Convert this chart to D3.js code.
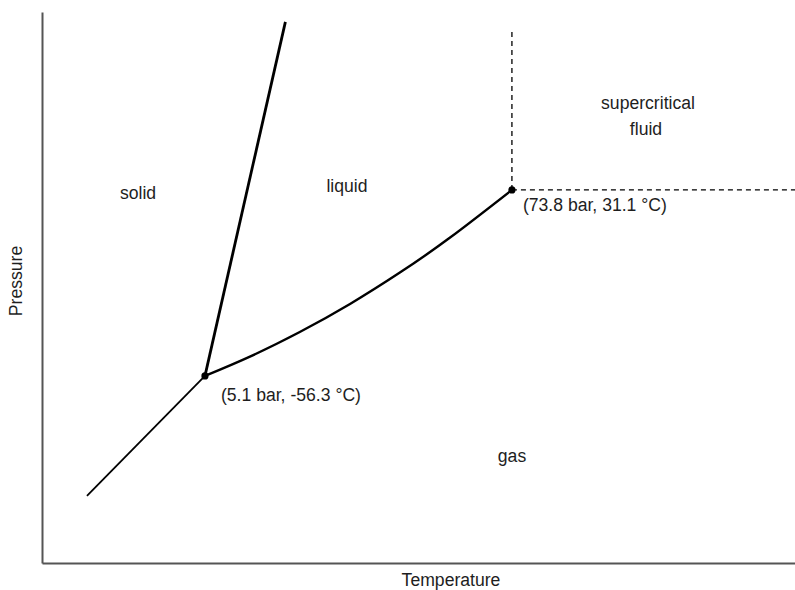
<!DOCTYPE html>
<html>
<head>
<meta charset="utf-8">
<script src="https://cdn.jsdelivr.net/npm/d3@7"></script>
<style>
  html, body { margin: 0; padding: 0; background: #fff; }
  svg { display: block; }
  text { font-family: "Liberation Sans", Arial, sans-serif; fill: #1e1e1e; }
</style>
</head>
<body>
<svg id="chart" width="795" height="590"></svg>
<script>
// Phase diagram of carbon dioxide (schematic): temperature in °C, pressure in bar.

// Special points
const triplePoint = { T: -56.3, P: 5.1 };
const criticalPoint = { T: 31.1, P: 73.8 };

// Phase boundaries as [temperature, pressure] pairs
const sublimationCurve = [[-89.9, 0.91], [-56.3, 5.1]];
const meltingCurve = [[-56.3, 5.1], [-33.4, 825]];
const vaporizationCurve = [
  [-56.3, 5.1], [-43.5, 6.73], [-29.3, 9.58], [-15.0, 14.33],
  [-0.8, 22.5], [13.4, 37.1], [31.1, 73.8]
];

// Boundaries of the supercritical region
const criticalIsotherm = [[31.1, 73.8], [31.1, 757]];
const criticalIsobar = [[31.1, 73.8], [111.7, 73.8]];

// Region names
const regionNames = ["solid", "liquid", "supercritical", "fluid", "gas"];

// Axis titles
const xTitle = "Temperature";
const yTitle = "Pressure";

// ---- layout ----
const svg = d3.select("#chart");
const plotLeft = 42, plotRight = 795, plotTop = 12, plotBottom = 563;
const fontSize = 17.6;

const x = d3.scaleLinear().domain([-102.7, 111.7]).range([plotLeft, plotRight]);
const y = d3.scaleLog().domain([0.347, 951]).range([plotBottom, plotTop]);

// Axes: plain lines, no ticks
const axisColor = "#555";
const gx = svg.append("g")
  .attr("transform", `translate(0,${plotBottom})`)
  .call(d3.axisBottom(x).tickValues([]).tickSizeOuter(0));
const gy = svg.append("g")
  .attr("transform", `translate(${plotLeft},0)`)
  .call(d3.axisLeft(y).tickValues([]).tickSizeOuter(0));
[gx, gy].forEach(g => g.select(".domain")
  .attr("stroke", axisColor).attr("stroke-width", 2));

const line = d3.line().x(d => x(d[0])).y(d => y(d[1]));

// Dashed limits of the supercritical region
[criticalIsotherm, criticalIsobar].forEach(seg => {
  svg.append("path")
    .attr("d", line(seg))
    .attr("fill", "none")
    .attr("stroke", "#000")
    .attr("stroke-width", 1.3)
    .attr("stroke-dasharray", "5,4");
});

// Phase boundaries
svg.append("path").attr("d", line(sublimationCurve))
  .attr("fill", "none").attr("stroke", "#000").attr("stroke-width", 1.8);
svg.append("path").attr("d", line(meltingCurve))
  .attr("fill", "none").attr("stroke", "#000").attr("stroke-width", 2.8);
svg.append("path")
  .attr("d", d3.line().x(d => x(d[0])).y(d => y(d[1]))
    .curve(d3.curveNatural)(vaporizationCurve))
  .attr("fill", "none").attr("stroke", "#000").attr("stroke-width", 2.4);

// Triple and critical points with their labels
const points = [
  { p: triplePoint, dx: 16, dy: 25 },
  { p: criticalPoint, dx: 11, dy: 21 }
];
points.forEach(({ p, dx, dy }) => {
  svg.append("circle")
    .attr("cx", x(p.T)).attr("cy", y(p.P)).attr("r", 3.6).attr("fill", "#000");
  svg.append("text")
    .attr("x", x(p.T) + dx).attr("y", y(p.P) + dy)
    .attr("font-size", fontSize)
    .text(`(${p.P} bar, ${p.T} °C)`);
});

// Region labels (pixel anchors, centred)
const regionAnchors = [[138, 199], [347, 192], [648, 109], [646, 135], [512, 462]];
regionNames.forEach((name, i) => {
  svg.append("text")
    .attr("x", regionAnchors[i][0]).attr("y", regionAnchors[i][1])
    .attr("text-anchor", "middle")
    .attr("font-size", fontSize)
    .text(name);
});

// Axis titles
svg.append("text")
  .attr("x", 451).attr("y", 586)
  .attr("text-anchor", "middle")
  .attr("font-size", fontSize)
  .text(xTitle);
svg.append("text")
  .attr("transform", "translate(22,281) rotate(-90)")
  .attr("text-anchor", "middle")
  .attr("font-size", fontSize)
  .text(yTitle);
</script>
</body>
</html>
